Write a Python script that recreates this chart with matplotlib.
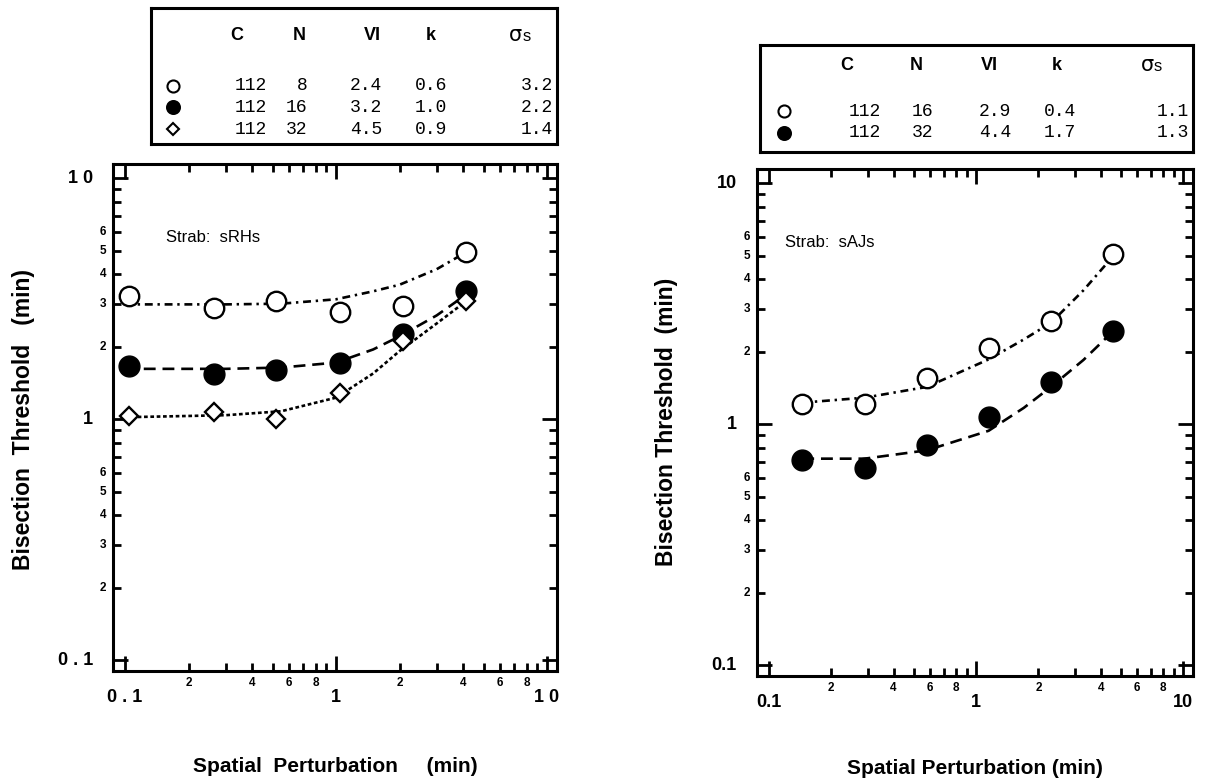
import matplotlib
matplotlib.use("Agg")
import matplotlib.pyplot as plt
from matplotlib.ticker import FixedLocator, NullFormatter
from matplotlib.transforms import ScaledTranslation

# ---------------- data ----------------
# left panel (Strab: sRHs)
left_x = [0.105, 0.265, 0.52, 1.04, 2.08, 4.15]
left_open = [3.24, 2.90, 3.09, 2.78, 2.96, 4.97]
left_filled = [1.66, 1.54, 1.60, 1.71, 2.27, 3.42]
left_diamond = [1.03, 1.07, 1.0, 1.29, 2.11, 3.09]

left_fit_x = [0.1, 0.3, 0.55, 1.0, 1.5, 2.0, 3.0, 4.15]
left_fit_open = [3.0, 3.0, 3.02, 3.15, 3.4, 3.62, 4.2, 4.95]
left_fit_filled = [1.62, 1.62, 1.64, 1.72, 1.95, 2.21, 2.7, 3.3]
left_fit_diamond = [1.02, 1.04, 1.08, 1.23, 1.55, 1.92, 2.5, 3.1]

# right panel (Strab: sAJs)
right_x = [0.145, 0.29, 0.58, 1.15, 2.3, 4.6]
right_open = [1.21, 1.21, 1.55, 2.08, 2.68, 5.08]
right_filled = [0.71, 0.66, 0.82, 1.07, 1.50, 2.44]

right_fit_x = [0.145, 0.29, 0.58, 1.15, 1.7, 2.3, 3.3, 4.6]
right_fit_open = [1.23, 1.29, 1.43, 1.86, 2.25, 2.64, 3.6, 5.0]
right_fit_filled = [0.72, 0.72, 0.78, 0.94, 1.17, 1.43, 1.85, 2.44]

# tables
table_header = ["C", "N", "VI", "k"]
left_rows = [["112", "8", "2.4", "0.6", "3.2"],
             ["112", "16", "3.2", "1.0", "2.2"],
             ["112", "32", "4.5", "0.9", "1.4"]]
left_syms = ["open", "filled", "diamond"]
right_rows = [["112", "16", "2.9", "0.4", "1.1"],
              ["112", "32", "4.4", "1.7", "1.3"]]
right_syms = ["open", "filled"]

xlabels_major = ["0.1", "1", "10"]
ylabels_major = ["0.1", "1", "10"]
x_minor_labeled = [2, 4, 6, 8]
y_minor_labeled = [2, 3, 4, 5, 6]

W, H = 1214, 784
fig = plt.figure(figsize=(W / 100, H / 100), dpi=100)

BOLD = dict(family="Liberation Sans", weight="bold")
MONO = dict(family="Liberation Mono")

def frac(x0, y0, x1, y1):
    return [x0 / W, 1 - y1 / H, (x1 - x0) / W, (y1 - y0) / H]

sym_style = {
    "open": dict(marker="o", mfc="white", mec="black", mew=1.7, ms=14),
    "filled": dict(marker="o", mfc="black", mec="black", mew=1.0, ms=15),
    "diamond": dict(marker="D", mfc="white", mec="black", mew=1.7, ms=9.5),
}

def px(dx, dy):
    return ScaledTranslation(dx / 100, dy / 100, fig.dpi_scale_trans)

def style_axes(ax, spaced):
    ax.set_xscale("log")
    ax.set_yscale("log")
    ax.set_xlim(0.0877, 11.15)
    ax.set_ylim(0.1 / 10 ** 0.045, 10 * 10 ** 0.06)
    for s in ax.spines.values():
        s.set_linewidth(2.2)
    majors = [0.1, 1, 10]
    minors = []
    for dec in [0.1, 1]:
        minors += [dec * m for m in range(2, 10)]
    ax.xaxis.set_major_locator(FixedLocator(majors))
    ax.yaxis.set_major_locator(FixedLocator(majors))
    ax.xaxis.set_minor_locator(FixedLocator(minors))
    ax.yaxis.set_minor_locator(FixedLocator(minors))
    for a in (ax.xaxis, ax.yaxis):
        a.set_major_formatter(NullFormatter())
        a.set_minor_formatter(NullFormatter())
    ax.tick_params(which="both", direction="in", top=True, right=True, width=2.0)
    ax.tick_params(which="major", length=11)
    ax.tick_params(which="minor", length=6)
    tx = ax.get_xaxis_transform()
    ty = ax.get_yaxis_transform()
    for dec in [0.1, 1]:
        for m in x_minor_labeled:
            ax.text(dec * m, 0, str(m), transform=tx + px(0, -6), ha="center",
                    va="top", fontsize=8.5, **BOLD)
        for m in y_minor_labeled:
            ax.text(0, dec * m, str(m), transform=ty + px(-7, 0), ha="right",
                    va="center", fontsize=8.5, **BOLD)
    for v, lab in zip(majors, xlabels_major):
        t = " ".join(lab) if spaced else lab
        ax.text(v, 0, t, transform=tx + px(0, -18), ha="center", va="top",
                fontsize=13, **BOLD)
    for v, lab in zip(majors, ylabels_major):
        t = " ".join(lab) if spaced else lab
        ax.text(0, v, t, transform=ty + px(-20, 0), ha="right", va="center",
                fontsize=13, **BOLD)

def draw_table(rect, rows, syms, col_right, head_x, row_y, head_y, sig_x):
    tax = fig.add_axes(rect)
    tax.set_xlim(0, 1)
    tax.set_ylim(1, 0)
    tax.set_xticks([])
    tax.set_yticks([])
    for s in tax.spines.values():
        s.set_linewidth(2.2)
    for hx, h in zip(head_x, table_header):
        tax.text(hx, head_y, h, ha="center", va="center", fontsize=13, **BOLD)
    tax.text(sig_x, head_y, "σ", ha="right", va="center", fontsize=15,
             family="DejaVu Sans")
    tax.text(sig_x, head_y + 0.01, "s", ha="left", va="center", fontsize=12,
             family="Liberation Sans")
    for ry, row, sym in zip(row_y, rows, syms):
        st = dict(sym_style[sym])
        st["ms"] = st["ms"] * 0.62
        st["mew"] = 1.5
        tax.plot([0.055], [ry], linestyle="none", **st)
        for cx, val in zip(col_right, row):
            tax.text(cx, ry, val, ha="right", va="center", fontsize=13, **MONO)
    return tax

# ---------------- left panel ----------------
axL = fig.add_axes(frac(113, 164, 557, 671))
style_axes(axL, spaced=True)
axL.plot(left_fit_x, left_fit_open, color="black", lw=1.9, dashes=[3, 1.8, 0.9, 1.8])
axL.plot(left_fit_x, left_fit_filled, color="black", lw=1.9, dashes=[4.5, 2.6])
axL.plot(left_fit_x, left_fit_diamond, color="black", lw=1.9, dashes=[1.4, 1.0])
axL.plot(left_x, left_open, linestyle="none", **sym_style["open"])
axL.plot(left_x, left_filled, linestyle="none", **sym_style["filled"])
axL.plot(left_x, left_diamond, linestyle="none", **sym_style["diamond"])
axL.text(0.12, 0.855, "Strab:  sRHs", transform=axL.transAxes, fontsize=12,
         family="Liberation Sans", va="center")
fig.text(24 / W, 1 - 420 / H, "Bisection  Threshold   (min)", rotation=90,
         ha="center", va="center", fontsize=16.5, **BOLD)
fig.text(335 / W, 1 - 766 / H, "Spatial  Perturbation     (min)", ha="center",
         va="center", fontsize=15, **BOLD)

# ---------------- right panel ----------------
axR = fig.add_axes(frac(757, 169, 1193, 676))
style_axes(axR, spaced=False)
axR.plot(right_fit_x, right_fit_open, color="black", lw=1.9, dashes=[3, 1.8, 0.9, 1.8])
axR.plot(right_fit_x, right_fit_filled, color="black", lw=1.9, dashes=[4.5, 2.6])
axR.plot(right_x, right_open, linestyle="none", **sym_style["open"])
axR.plot(right_x, right_filled, linestyle="none", **sym_style["filled"])
axR.text(0.065, 0.855, "Strab:  sAJs", transform=axR.transAxes, fontsize=12,
         family="Liberation Sans", va="center")
fig.text(667 / W, 1 - 422 / H, "Bisection Threshold  (min)", rotation=90,
         ha="center", va="center", fontsize=16.5, **BOLD)
fig.text(975 / W, 1 - 768 / H, "Spatial Perturbation (min)", ha="center",
         va="center", fontsize=15, **BOLD)

# ---------------- tables ----------------
draw_table(frac(151, 8, 557, 144), left_rows, left_syms,
           col_right=[0.285, 0.385, 0.57, 0.73, 0.99],
           head_x=[0.21, 0.365, 0.545, 0.69], sig_x=0.915,
           row_y=[0.57, 0.73, 0.89], head_y=0.2)
draw_table(frac(760, 45, 1193, 152), right_rows, right_syms,
           col_right=[0.28, 0.4, 0.58, 0.73, 0.99],
           head_x=[0.2, 0.36, 0.53, 0.685], sig_x=0.91,
           row_y=[0.62, 0.82], head_y=0.19)

fig.savefig("out.png", dpi=100)
